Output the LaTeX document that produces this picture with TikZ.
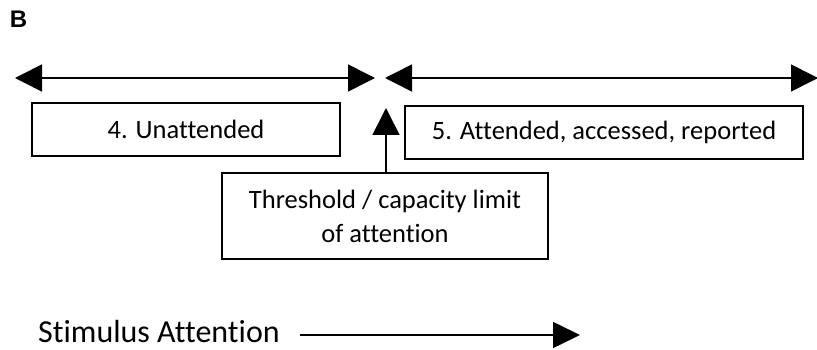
\documentclass[tikz,border=0pt]{standalone}
\usepackage{fontspec}
\setmainfont{Carlito}[Ligatures={NoCommon}]
\newfontfamily\labfont{Liberation Sans}[BoldFont={Liberation Sans Bold}]
\usetikzlibrary{arrows.meta}
\begin{document}
\begin{tikzpicture}[x=1pt,y=-1pt,
  box/.style={draw=black,line width=2pt,inner sep=0pt,font=\fontsize{26.5}{34}\selectfont,align=center},
  conn/.style={draw=black,line width=1.6pt},
  bigtip/.style={-{Triangle[length=27pt,width=27pt]}},
  bothtip/.style={{Triangle[length=27pt,width=27pt]}-{Triangle[length=27pt,width=27pt]}}]
\useasboundingbox (0,0) rectangle (817,350);
\fill[white] (0,0) rectangle (817,350);
\node[anchor=center,inner sep=0pt] (lab) at (18.5,19.5) {\labfont\bfseries\fontsize{24}{28}\selectfont B};
% boxes
\node[box,minimum width=308pt,minimum height=53pt] (unatt) at (186,129.5) {4. Unattended};
\node[box,minimum width=398pt,minimum height=53pt] (att) at (604,132.5) {5. Attended, accessed, reported};
\node[box,minimum width=326pt,minimum height=86pt] (thr) at (385,216) {Threshold / capacity limit\\of attention};
\node[font=\fontsize{32}{38}\selectfont,anchor=west,inner sep=0pt] (stim) at (38,332) {Stimulus Attention};
% coordinates
\coordinate (la) at (15,78);
\coordinate (lb) at (375,78);
\coordinate (ra) at (385,78);
\coordinate (rb) at (818,78);
\coordinate (up) at (386,108);
\coordinate (sa) at (300,335);
\coordinate (sb) at (580,335);
% arrows
\draw[conn,bothtip] (la) -- (lb);
\draw[conn,bothtip] (ra) -- (rb);
\draw[conn,bigtip] (thr.north -| up) -- (up);
\draw[conn,-{Triangle[length=27pt,width=26pt]}] (sa) -- (sb);
\end{tikzpicture}
\end{document}
